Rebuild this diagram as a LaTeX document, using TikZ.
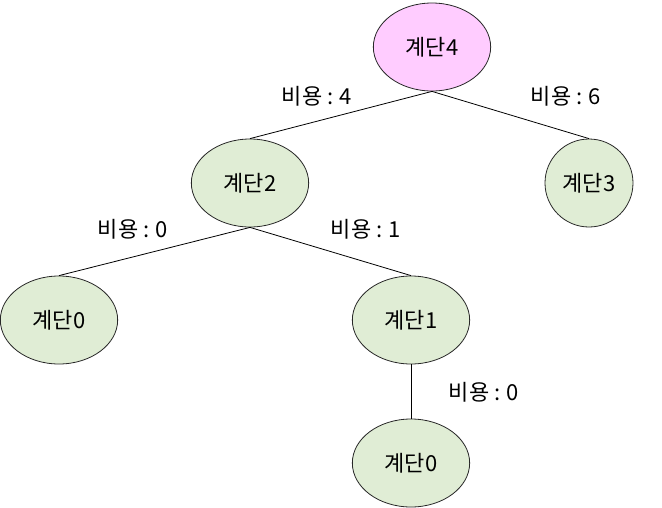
\documentclass[tikz,border=0pt]{standalone}
\usepackage{fontspec}
\setmainfont{Noto Sans CJK KR}
\definecolor{rootpink}{RGB}{255,204,255}
\definecolor{stagegreen}{RGB}{224,237,213}
\definecolor{edgegray}{RGB}{40,40,40}
\usetikzlibrary{shapes.geometric, positioning}

\begin{document}
\begin{tikzpicture}[
          x=0.75pt, y=-0.75pt,
          stage/.style={
              ellipse,
              draw=edgegray,
              fill=stagegreen,
              line width=0.6pt,
              minimum width=88pt,
              minimum height=66pt,
              inner sep=0pt,
              font=\fontsize{16.5}{19}\selectfont
            },
          rootstage/.style={
              stage,
              fill=rootpink
            },
          cost/.style={
              font=\fontsize{16.5}{19}\selectfont,
              inner sep=0pt
            },
          link/.style={draw=black, line width=0.6pt}
        ]
        \useasboundingbox (0,0) rectangle (662,508);

        \node[rootstage] (s4) at (432,47) {계단4};
        \node[stage] (s2) at (250,183) {계단2};
        \node[stage, minimum width=66pt] (s3) at (589,183) {계단3};
        \node[stage] (s0a) at (59,320) {계단0};
        \node[stage] (s1) at (411,320) {계단1};
        \node[stage] (s0b) at (411,463) {계단0};

        \draw[link] (s4.south) -- (s2.north);
        \draw[link] (s4.south) -- (s3.north);
        \draw[link] (s2.south) -- (s0a.north);
        \draw[link] (s2.south) -- (s1.north);
        \draw[link] (s1.south) -- (s0b.north);

        \node[cost] (c24) at (317,96) {비용 : 4};
        \node[cost] (c34) at (566,96) {비용 : 6};
        \node[cost] (c02) at (133,229) {비용 : 0};
        \node[cost] (c12) at (366,229) {비용 : 1};
        \node[cost] (c01) at (484,392) {비용 : 0};
      \end{tikzpicture}
\end{document}
